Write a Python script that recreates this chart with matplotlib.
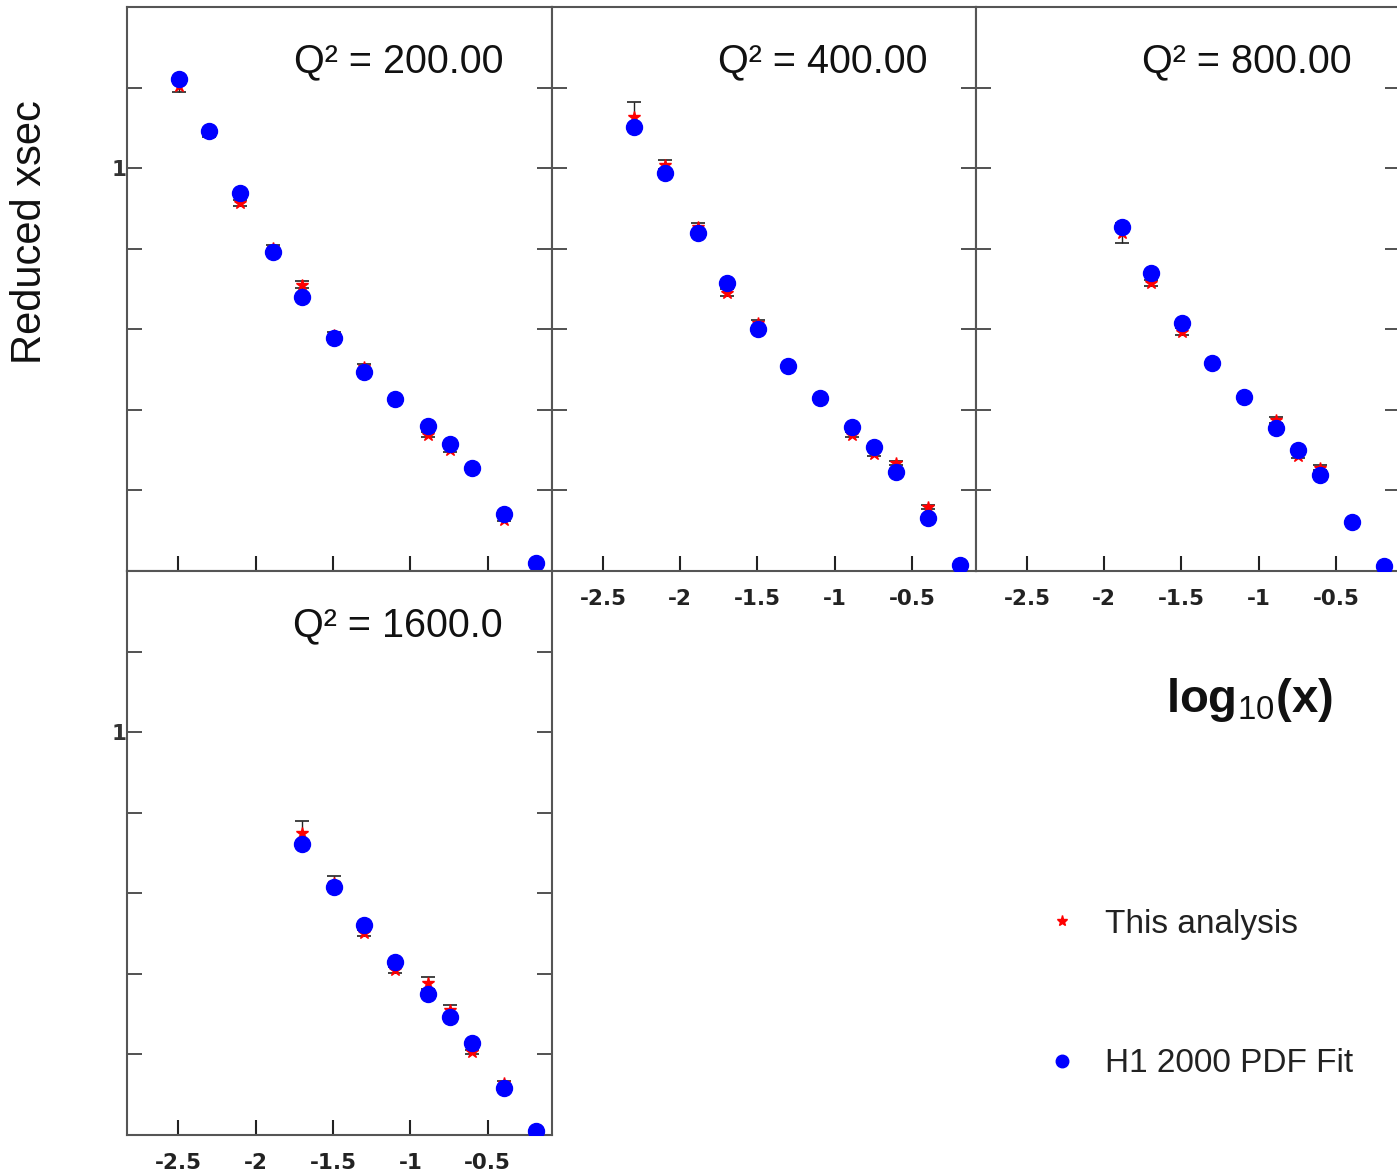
import matplotlib
matplotlib.use("Agg")
import matplotlib.pyplot as plt
from matplotlib.lines import Line2D

plt.rcParams['font.family'] = ['Liberation Sans', 'DejaVu Sans']
plt.rcParams['mathtext.fontset'] = 'custom'
plt.rcParams['mathtext.rm'] = 'Liberation Sans'
plt.rcParams['mathtext.it'] = 'Liberation Sans:italic'
plt.rcParams['mathtext.bf'] = 'Liberation Sans:bold'

# log10(x) bins shared by all Q^2 panels
log_x = [-2.495, -2.301, -2.097, -1.886, -1.699, -1.495, -1.301,
         -1.097, -0.886, -0.745, -0.602, -0.398, -0.187]

q2_labels = ["Q² = 200.00", "Q² = 400.00", "Q² = 800.00", "Q² = 1600.0"]

# first bin index used in each panel
q200_start = 0
q200_fit = [1.222, 1.093, 0.939, 0.793, 0.681, 0.579, 0.494, 0.427, 0.360, 0.316, 0.256, 0.142, 0.020]
q200_meas = [1.205, 1.086, 0.914, 0.802, 0.711, 0.586, 0.507, 0.427, 0.338, 0.301, 0.256, 0.127, 0.020]
q200_err = [0.015, 0.008, 0.008, 0.008, 0.008, 0.007, 0.006, 0.005, 0.006, 0.005, 0.005, 0.004, 0.003]

q400_start = 1
q400_fit = [1.103, 0.989, 0.840, 0.715, 0.601, 0.509, 0.430, 0.358, 0.308, 0.246, 0.132, 0.015]
q400_meas = [1.128, 1.009, 0.855, 0.691, 0.616, 0.509, 0.430, 0.338, 0.291, 0.268, 0.159, 0.015]
q400_err = [0.035, 0.012, 0.008, 0.008, 0.007, 0.006, 0.005, 0.006, 0.006, 0.006, 0.005, 0.003]

q800_start = 3
q800_fit = [0.855, 0.740, 0.616, 0.517, 0.432, 0.355, 0.301, 0.239, 0.122, 0.012]
q800_meas = [0.840, 0.715, 0.594, 0.517, 0.432, 0.375, 0.286, 0.256, 0.122, 0.012]
q800_err = [0.025, 0.008, 0.008, 0.007, 0.006, 0.007, 0.006, 0.006, 0.005, 0.003]

q1600_start = 4
q1600_fit = [0.723, 0.616, 0.522, 0.430, 0.350, 0.293, 0.229, 0.117, 0.010]
q1600_meas = [0.750, 0.626, 0.502, 0.410, 0.378, 0.311, 0.206, 0.129, 0.010]
q1600_err = [0.030, 0.016, 0.008, 0.008, 0.015, 0.012, 0.006, 0.005, 0.003]

xticks = [-2.5, -2, -1.5, -1, -0.5]
xtick_labels = ["-2.5", "-2", "-1.5", "-1", "-0.5"]
yticks = [0.2, 0.4, 0.6, 0.8, 1.0, 1.2]
ytick_labels = ["", "", "", "", "1", ""]

W, H = 1397, 1174
fig = plt.figure(figsize=(W / 100, H / 100), dpi=100)


def px_axes(x0, y0, x1, y1):
    return fig.add_axes([x0 / W, 1 - y1 / H, (x1 - x0) / W, (y1 - y0) / H])


panels = [
    (px_axes(127, 7, 552, 571), q200_start, q200_fit, q200_meas, q200_err, q2_labels[0], False, True),
    (px_axes(552, 7, 976, 571), q400_start, q400_fit, q400_meas, q400_err, q2_labels[1], True, False),
    (px_axes(976, 7, 1400, 571), q800_start, q800_fit, q800_meas, q800_err, q2_labels[2], True, False),
    (px_axes(127, 571, 552, 1135), q1600_start, q1600_fit, q1600_meas, q1600_err, q2_labels[3], True, True),
]

for ax, start, fit, meas, err, label, show_x, show_y in panels:
    xs = log_x[start:start + len(fit)]
    ax.errorbar(xs, meas, yerr=err, fmt='*', color='red', ms=9, mec='red',
                ecolor='#222222', elinewidth=1.0, capsize=5, capthick=1.2, zorder=2)
    ax.plot(xs, fit, 'o', color='blue', ms=11.5, mec='blue', zorder=3)
    ax.set_xlim(-2.83, -0.085)
    ax.set_ylim(0, 1.4)
    ax.set_xticks(xticks)
    ax.set_yticks(yticks)
    ax.set_xticklabels(xtick_labels if show_x else [""] * len(xticks))
    ax.set_yticklabels(ytick_labels if show_y else [""] * len(yticks))
    ax.tick_params(axis='x', direction='in', length=11, width=1.5, pad=13,
                   labelsize=15.5, colors='#222222')
    ax.tick_params(axis='y', direction='in', length=11, width=1.2, pad=0,
                   labelsize=15.5, colors='#333333', left=True, right=True)
    for lab in ax.get_xticklabels() + ax.get_yticklabels():
        lab.set_fontweight('bold')
        lab.set_family('DejaVu Sans')
    for sp in ax.spines.values():
        sp.set_color('#555555')
        sp.set_linewidth(1.5)
    ax.text(0.885, 0.903, label, transform=ax.transAxes, ha='right', va='center',
            fontsize=28.5, color='#111111')

fig.text(30 / W, 1 - 232 / H, "Reduced xsec", rotation=90, ha='center', va='center',
         fontsize=30, color='#111111')
fig.text(1249 / W, 1 - 700 / H, r"$\mathbf{log}_{10}\mathbf{(x)}$", ha='center', va='center',
         fontsize=34, color='#111111')

handles = [Line2D([], [], ls='none', marker='*', color='red', ms=8),
           Line2D([], [], ls='none', marker='o', color='blue', ms=9)]
fig.legend(handles, ["This analysis", "H1 2000 PDF Fit"], loc='center left',
           bbox_to_anchor=(1032 / W, 1 - 994 / H), frameon=False, fontsize=24,
           labelspacing=3.25, handlelength=1.0, handletextpad=0.8,
           borderaxespad=0, labelcolor='#222222')

fig.savefig("out.png", dpi=100)
